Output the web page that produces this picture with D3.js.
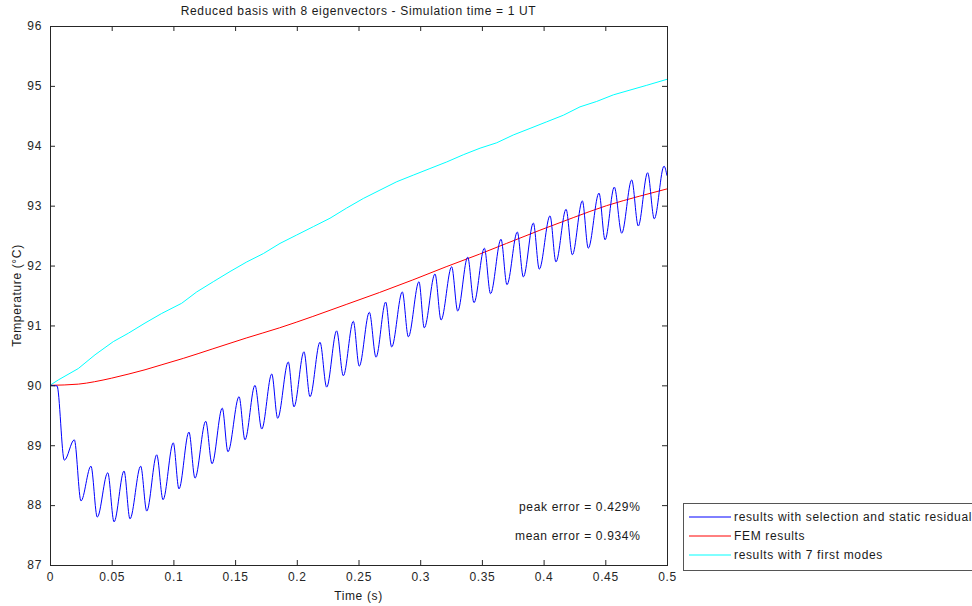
<!DOCTYPE html>
<html>
<head>
<meta charset="utf-8">
<script src="https://cdn.jsdelivr.net/npm/d3@7"></script>
<style>
  body { margin: 0; background: #fff; }
  svg { display: block; font-family: "Liberation Sans", Arial, sans-serif; }
  svg text { letter-spacing: 0.65px; }
</style>
</head>
<body>
<svg id="chart" width="972" height="606"></svg>
<script>
//
// Data
//

// reduced basis with selection and static residual (blue)
var tBlue = [0, 0.0057, 0.0116, 0.0197, 0.0251, 0.0332, 0.0383, 0.0468, 0.0519, 0.060,
  0.0648, 0.0735, 0.0784, 0.0865, 0.0916, 0.0999, 0.1045, 0.1126, 0.1175, 0.1262,
  0.1313, 0.1396, 0.1442, 0.1532, 0.158, 0.1661, 0.1716, 0.1797, 0.1845, 0.1931,
  0.1977, 0.2058, 0.2107, 0.2188, 0.2242, 0.2323, 0.2377, 0.2458, 0.2506, 0.2588,
  0.2642, 0.272, 0.2769, 0.2855, 0.2904, 0.299, 0.3033, 0.312, 0.3169, 0.3255,
  0.3304, 0.3385, 0.3436, 0.352, 0.357, 0.3655, 0.3703, 0.3787, 0.3836, 0.3917,
  0.3965, 0.4052, 0.41, 0.4182, 0.4233, 0.4314, 0.4362, 0.4449, 0.4498, 0.4573,
  0.4633, 0.4714, 0.4767, 0.4843, 0.4897, 0.4976, 0.5]
var tempBlue = [90.00, 89.99, 88.75, 89.09, 88.07, 88.65, 87.80, 88.54, 87.72, 88.57,
  87.77, 88.65, 87.90, 88.84, 88.09, 89.04, 88.27, 89.22, 88.45, 89.40,
  88.69, 89.62, 88.89, 89.81, 89.09, 90.00, 89.27, 90.19, 89.45, 90.39,
  89.64, 90.56, 89.81, 90.72, 89.97, 90.91, 90.16, 91.07, 90.32, 91.22,
  90.47, 91.39, 90.64, 91.56, 90.81, 91.73, 90.96, 91.86, 91.09, 91.98,
  91.24, 92.14, 91.38, 92.29, 91.53, 92.44, 91.68, 92.56, 91.81, 92.71,
  91.94, 92.83, 92.06, 92.94, 92.18, 93.08, 92.29, 93.21, 92.43, 93.31,
  92.54, 93.43, 92.66, 93.55, 92.78, 93.66, 93.50]

// FEM results (red)
var tRed = [0, 0.023, 0.036, 0.05, 0.064, 0.077, 0.09, 0.108, 0.132, 0.159, 0.186,
  0.213, 0.24, 0.267, 0.294, 0.321, 0.348, 0.37, 0.397, 0.424, 0.451, 0.478, 0.5]
var tempRed = [90.00, 90.02, 90.06, 90.12, 90.19, 90.26, 90.34, 90.45, 90.61, 90.79, 90.96,
  91.15, 91.35, 91.55, 91.76, 91.98, 92.19, 92.37, 92.59, 92.80, 93.00, 93.16, 93.28]

// results with 7 first modes (cyan)
var tCyan = [0, 0.0067, 0.0229, 0.0365, 0.0513, 0.0635, 0.077, 0.0905, 0.1067, 0.1189,
  0.1323, 0.1459, 0.1594, 0.1729, 0.1864, 0.1999, 0.2134, 0.2269, 0.2404, 0.2539,
  0.2674, 0.281, 0.2944, 0.3079, 0.3215, 0.3349, 0.3485, 0.362, 0.3754, 0.389,
  0.4025, 0.416, 0.4295, 0.443, 0.4565, 0.47, 0.4836, 0.5]
var tempCyan = [90.00, 90.09, 90.28, 90.51, 90.73, 90.87, 91.04, 91.20, 91.37, 91.56,
  91.73, 91.90, 92.06, 92.20, 92.37, 92.51, 92.65, 92.79, 92.96, 93.12,
  93.26, 93.40, 93.51, 93.62, 93.73, 93.85, 93.96, 94.05, 94.18, 94.29,
  94.40, 94.51, 94.65, 94.74, 94.85, 94.93, 95.01, 95.11]

var xTicks = [0, 0.05, 0.1, 0.15, 0.2, 0.25, 0.3, 0.35, 0.4, 0.45, 0.5]
var yTicks = [87, 88, 89, 90, 91, 92, 93, 94, 95, 96]
var seriesNames = ['results with selection and static residual', 'FEM results', 'results with 7 first modes']
var seriesColors = ['#0000ff', '#ff0000', '#00ffff']
var notes = ['peak error = 0.429%', 'mean error = 0.934%']

//
// Layout
//

var plotL = 50, plotR = 667, plotT = 26, plotB = 565
var svg = d3.select('#chart')

var x = d3.scaleLinear().domain([0, 0.5]).range([plotL, plotR])
var y = d3.scaleLinear().domain([87, 96]).range([plotB, plotT])

svg.append('clipPath').attr('id', 'plot')
  .append('rect')
  .attr('x', plotL).attr('y', plotT)
  .attr('width', plotR - plotL).attr('height', plotB - plotT)

function zip(ts, vs) {
  return ts.map(function(t, i) { return [t, vs[i]] })
}

var line = d3.line()
  .x(function(d) { return x(d[0]) })
  .y(function(d) { return y(d[1]) })

var lines = svg.append('g').attr('clip-path', 'url(#plot)')

lines.append('path')
  .datum(zip(tCyan, tempCyan))
  .attr('fill', 'none')
  .attr('stroke', seriesColors[2])
  .attr('stroke-width', 1)
  .attr('d', line)

lines.append('path')
  .datum(zip(tRed, tempRed))
  .attr('fill', 'none')
  .attr('stroke', seriesColors[1])
  .attr('stroke-width', 1)
  .attr('d', line.curve(d3.curveMonotoneX))

lines.append('path')
  .datum(zip(tBlue, tempBlue))
  .attr('fill', 'none')
  .attr('stroke', seriesColors[0])
  .attr('stroke-width', 1)
  .attr('d', line.curve(d3.curveMonotoneX))

//
// Axes (MATLAB style: box with inward ticks)
//

function styleAxis(g) {
  g.select('.domain').remove()
  g.selectAll('.tick line').attr('stroke', '#262626')
  g.selectAll('.tick text').attr('fill', '#262626').style('font-size', '12px')
}

svg.append('g')
  .attr('transform', 'translate(0,' + plotB + ')')
  .call(d3.axisBottom(x).tickValues(xTicks).tickSize(-5).tickPadding(7)
    .tickFormat(function(d) { return d3.format('')(d) }))
  .call(styleAxis)

svg.append('g')
  .attr('transform', 'translate(0,' + plotT + ')')
  .call(d3.axisTop(x).tickValues(xTicks).tickSize(-5).tickFormat(''))
  .call(styleAxis)

svg.append('g')
  .attr('transform', 'translate(' + plotL + ',0)')
  .call(d3.axisLeft(y).tickValues(yTicks).tickSize(-5).tickPadding(8))
  .call(styleAxis)

svg.append('g')
  .attr('transform', 'translate(' + plotR + ',0)')
  .call(d3.axisRight(y).tickValues(yTicks).tickSize(-5).tickFormat(''))
  .call(styleAxis)

svg.append('rect')
  .attr('x', plotL + 0.5).attr('y', plotT + 0.5)
  .attr('width', plotR - plotL).attr('height', plotB - plotT)
  .attr('fill', 'none')
  .attr('stroke', '#262626')
  .attr('stroke-width', 1)

//
// Texts
//

svg.append('text')
  .attr('x', (plotL + plotR) / 2).attr('y', 15)
  .attr('text-anchor', 'middle')
  .style('font-size', '12px')
  .attr('fill', '#1a1a1a')
  .text('Reduced basis with 8 eigenvectors - Simulation time = 1 UT')

svg.append('text')
  .attr('x', (plotL + plotR) / 2).attr('y', 600)
  .attr('text-anchor', 'middle')
  .style('font-size', '12px')
  .attr('fill', '#1a1a1a')
  .text('Time (s)')

svg.append('text')
  .attr('transform', 'translate(21,' + ((plotT + plotB) / 2) + ') rotate(-90)')
  .attr('text-anchor', 'middle')
  .style('font-size', '12px')
  .attr('fill', '#1a1a1a')
  .text('Temperature (°C)')

svg.selectAll('.note')
  .data(notes)
  .enter().append('text')
  .attr('class', 'note')
  .attr('x', x(0.4785))
  .attr('y', function(d, i) { return y(87.9 - i * 0.49) })
  .attr('text-anchor', 'end')
  .style('font-size', '12px')
  .attr('fill', '#1a1a1a')
  .text(function(d) { return d })

//
// Legend
//

var legend = svg.append('g').attr('transform', 'translate(683,503)')

legend.append('rect')
  .attr('x', 0.5).attr('y', 0.5)
  .attr('width', 300).attr('height', 67)
  .attr('fill', '#fff')
  .attr('stroke', '#555')

var items = legend.selectAll('.item')
  .data(seriesNames)
  .enter().append('g')
  .attr('class', 'item')
  .attr('transform', function(d, i) { return 'translate(0,' + (14 + i * 19) + ')' })

items.append('line')
  .attr('x1', 6).attr('x2', 48)
  .attr('stroke', function(d, i) { return seriesColors[i] })

items.append('text')
  .attr('x', 51).attr('y', 4)
  .style('font-size', '12px')
  .attr('fill', '#1a1a1a')
  .text(function(d) { return d })
</script>
</body>
</html>
